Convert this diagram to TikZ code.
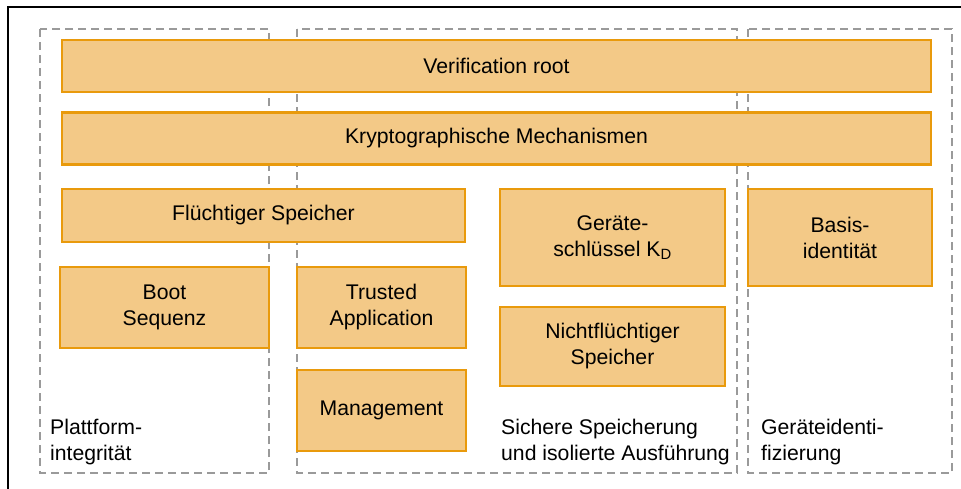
\documentclass[tikz,border=0pt]{standalone}
\usepackage{fontspec}
\setmainfont{Liberation Sans}
\definecolor{boxfill}{HTML}{F3C987}
\definecolor{boxline}{HTML}{E99A0C}
\definecolor{groupline}{HTML}{9A9A9A}
\tikzset{
  every node/.style={font=\fontsize{21.2}{26}\selectfont, text=black},
  block/.style={draw=boxline, fill=boxfill, line width=2.6pt, align=center, inner sep=0pt},
  group/.style={draw=groupline, line width=2.6pt, dash pattern=on 8pt off 5pt},
  grouplabel/.style={anchor=north west, align=left, inner sep=0pt},
  frame/.style={draw=black, line width=2.8pt},
}
\begin{document}
\begin{tikzpicture}[x=1pt, y=-1pt]
  \useasboundingbox (0,0) rectangle (961,488);
  \clip (0,0) rectangle (961,488);
  % outer frame (only top and left edges fall inside the page)
  \draw[frame] (8,520) -- (8,7) -- (1000,7);

  % dashed groups
  \draw[group] (40,29) rectangle (269,473);
  \draw[group] (297,29) rectangle (737,473);
  \draw[group] (748,29) rectangle (952,473);

  % blocks
  \node[block, minimum width=869pt, minimum height=52pt] (vroot)  at (496.5,66)    {Verification root};
  \node[block, minimum width=869pt, minimum height=52pt] (krypto) at (496.5,138.5) {Kryptographische Mechanismen};
  \node[block, minimum width=403pt, minimum height=53pt] (fluecht) at (263.5,215.5) {Flüchtiger Speicher};
  \node[block, minimum width=209pt, minimum height=81pt] (boot)   at (164.5,307.5) {Boot\\Sequenz};
  \node[block, minimum width=169pt, minimum height=81pt] (trusted) at (381.5,307.5) {Trusted\\Application};
  \node[block, minimum width=169pt, minimum height=81pt] (mgmt)   at (381.5,410.5) {Management};
  \node[block, minimum width=225pt, minimum height=97pt] (dkey)   at (612.5,237.5) {Geräte-\\schlüssel K\textsubscript{D}};
  \node[block, minimum width=225pt, minimum height=79pt] (nvmem)  at (612.5,346.5) {Nichtflüchtiger\\Speicher};
  \node[block, minimum width=184pt, minimum height=97pt] (basis)  at (840,237.5)   {Basis-\\identität};

  % group labels
  \node[grouplabel] (lplat) at (50,419)  {Plattform-\\integrität};
  \node[grouplabel] (lsec)  at (501,419) {Sichere Speicherung\\und isolierte Ausführung};
  \node[grouplabel] (lid)   at (761,419) {Geräteidenti-\\fizierung};
\end{tikzpicture}
\end{document}
